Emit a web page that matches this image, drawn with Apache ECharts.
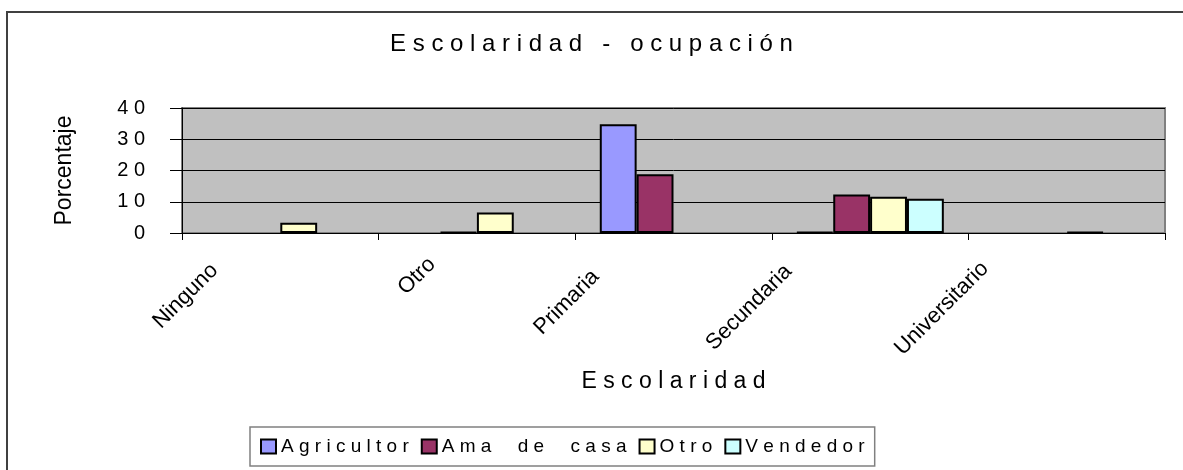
<!DOCTYPE html>
<html>
<head>
<meta charset="utf-8">
<script src="https://cdn.jsdelivr.net/npm/echarts@6/dist/echarts.min.js"></script>
<style>
  html, body { margin: 0; padding: 0; background: #fff; }
  #chart { width: 1183px; height: 470px; }
</style>
</head>
<body>
<div id="chart"></div>
<script>
// datos (porcentaje)
var categorias = ['Ninguno', 'Otro', 'Primaria', 'Secundaria', 'Universitario'];
var agricultor = [0, 0, 34.8, 0.3, 0];
var amaDeCasa  = [0, 0.3, 18.8, 12.3, 0];
var otro       = [3.3, 6.6, 0, 11.6, 0.3];
var vendedor   = [0, 0, 0, 11.0, 0];

// desplazamiento de las etiquetas giradas (padding del texto)
var labelPad = [
    [40, 113, 0, 0],
    [61, 94, 0, 0],
    [32, 126, 0, 0],
    [19, 125, 0, 0],
    [15, 123, 0, 0]
];

var FONT = "'Liberation Sans', Arial, sans-serif";

function spaced(s) {
    return s.split('').join(' ');
}

var labelRich = {};
for (var i = 0; i < categorias.length; i++) {
    labelRich['c' + i] = {
        fontFamily: FONT,
        fontSize: 22,
        color: '#000',
        padding: labelPad[i]
    };
}

function barSerie(name, data, color) {
    return {
        name: spaced(name),
        type: 'bar',
        // los ceros no se dibujan en el original
        data: data.map(function (v) { return v === 0 ? null : v; }),
        barGap: '0%',
        barCategoryGap: '25%',
        itemStyle: {
            color: color,
            borderColor: '#000',
            borderWidth: 2
        }
    };
}

var myChart = echarts.init(document.getElementById('chart'));
var option = {
    animation: false,
    backgroundColor: '#fff',
    textStyle: { fontFamily: FONT, color: '#000' },
    title: {
        text: spaced('Escolaridad - ocupación'),
        left: 'center',
        top: 27,
        textStyle: { fontFamily: FONT, fontSize: 24, fontWeight: 'normal', color: '#000' }
    },
    graphic: [{
        type: 'rect',
        shape: { x: 7, y: 12, width: 1300, height: 600 },
        style: { fill: null, stroke: '#404040', lineWidth: 2 },
        z: -10
    }],
    legend: {
        left: 250,
        top: 427,
        padding: [10, 10, 10, 10],
        itemWidth: 15,
        itemHeight: 14,
        itemGap: 12,
        borderColor: '#808080',
        borderWidth: 1.5,
        backgroundColor: '#fff',
        icon: 'rect',
        textStyle: { fontFamily: FONT, fontSize: 19, color: '#000' }
    },
    grid: {
        left: 182,
        right: 18,
        top: 108,
        bottom: 237,
        show: true,
        backgroundColor: '#C0C0C0',
        borderColor: '#808080',
        borderWidth: 2,
        outerBoundsMode: 'none'
    },
    xAxis: {
        type: 'category',
        data: categorias,
        name: spaced('Escolaridad'),
        nameLocation: 'middle',
        nameGap: 137,
        nameMoveOverlap: false,
        nameTextStyle: { fontFamily: FONT, fontSize: 23, color: '#000' },
        axisLine: { lineStyle: { color: '#000', width: 1 } },
        axisTick: { show: true, length: 7, interval: 0, lineStyle: { color: '#000' } },
        axisLabel: {
            interval: 0,
            rotate: 45,
            margin: -60,
            fontFamily: FONT,
            fontSize: 22,
            color: '#000',
            formatter: function (v, idx) { return '{c' + idx + '|' + v + '}'; },
            rich: labelRich
        }
    },
    yAxis: {
        type: 'value',
        min: 0,
        max: 40,
        interval: 10,
        name: 'Porcentaje',
        nameLocation: 'middle',
        nameRotate: 90,
        nameGap: 106,
        nameMoveOverlap: false,
        nameTextStyle: { fontFamily: FONT, fontSize: 23, color: '#000' },
        axisLine: { show: true, lineStyle: { color: '#000', width: 1 } },
        axisTick: { show: true, length: 12, lineStyle: { color: '#000' } },
        axisLabel: {
            margin: 37,
            fontFamily: FONT,
            fontSize: 20,
            color: '#000',
            formatter: function (v) { return spaced(String(v)); }
        },
        splitLine: { show: true, lineStyle: { color: '#000', width: 1 } }
    },
    series: [
        barSerie('Agricultor', agricultor, '#9999FF'),
        barSerie('Ama  de  casa', amaDeCasa, '#993366'),
        barSerie('Otro', otro, '#FFFFCC'),
        barSerie('Vendedor', vendedor, '#CCFFFF')
    ]
};
myChart.setOption(option);
</script>
</body>
</html>
